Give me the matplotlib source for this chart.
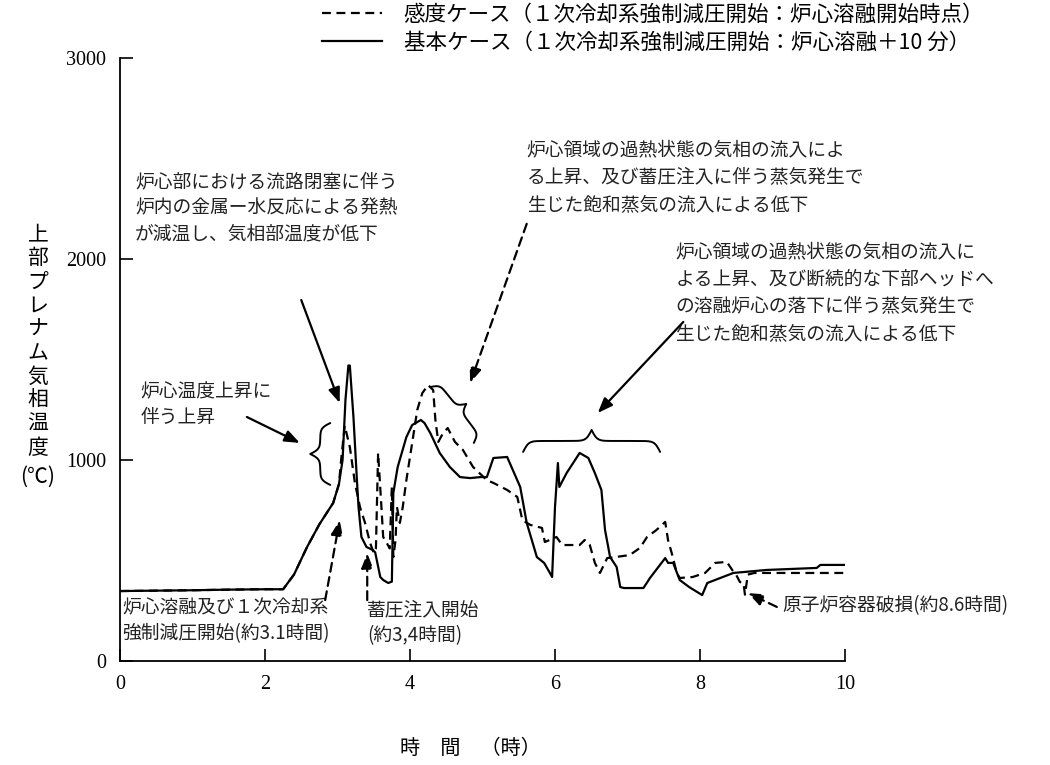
import matplotlib
matplotlib.use("Agg")
import matplotlib.pyplot as plt
import numpy as np

JP = ["Noto Sans CJK JP", "DejaVu Sans"]
plt.rcParams["font.family"] = JP

# Base case: depressurisation at core melt + 10 min (solid)
base_hours = [0.0, 0.5, 1.0, 1.5, 2.0, 2.25, 2.4, 2.58, 2.75, 2.94, 3.02, 3.07,
              3.11, 3.15, 3.17, 3.22, 3.27, 3.29, 3.33, 3.4, 3.49, 3.52, 3.59,
              3.63, 3.7, 3.75, 3.77, 3.83, 3.95, 4.03, 4.15, 4.2, 4.28, 4.41,
              4.55, 4.69, 4.83, 4.97, 5.06, 5.15, 5.34, 5.52, 5.61, 5.75, 5.85,
              5.93, 5.96, 6.0, 6.04, 6.06, 6.16, 6.25, 6.34, 6.46, 6.55, 6.64,
              6.69, 6.76, 6.85, 6.9, 6.95, 7.22, 7.31, 7.52, 7.56, 7.63, 7.72,
              7.85, 8.03, 8.1, 8.28, 8.46, 8.92, 9.61, 9.66, 10.0]
base_temp = [348, 350, 352, 355, 357, 357, 430, 567, 680, 786, 880, 1000,
             1300, 1470, 1470, 1214, 886, 766, 617, 567, 552, 540, 418,
             403, 388, 395, 836, 965, 1114, 1174, 1199, 1184, 1134, 1035,
             965, 915, 910, 915, 915, 1010, 1015, 866, 687, 517, 488,
             438, 418, 766, 985, 866, 935, 985, 1035, 1010, 935, 851,
             652, 517, 468, 368, 363, 363, 413, 512, 488, 488, 403,
             368, 328, 388, 413, 438, 453, 463, 478, 478]

# Sensitivity case: depressurisation at core melt start (dashed)
sens_hours = [0.0, 0.5, 1.0, 1.5, 2.0, 2.25, 2.4, 2.58, 2.75, 2.94, 3.02, 3.05,
              3.1, 3.17, 3.24, 3.31, 3.38, 3.45, 3.5, 3.53, 3.56, 3.6, 3.63,
              3.68, 3.72, 3.75, 3.77, 3.8, 3.82, 3.86, 3.9, 3.95, 4.03, 4.1,
              4.17, 4.25, 4.32, 4.35, 4.39, 4.45, 4.52, 4.62, 4.73, 4.87, 5.06,
              5.15, 5.34, 5.48, 5.55, 5.66, 5.82, 5.86, 6.02, 6.1, 6.34, 6.41,
              6.48, 6.55, 6.62, 6.72, 6.83, 7.03, 7.17, 7.27, 7.4, 7.52, 7.56,
              7.61, 7.68, 7.72, 7.9, 8.07, 8.21, 8.37, 8.45, 8.5, 8.55, 8.6,
              8.62, 8.66, 8.75, 10.0]
sens_temp = [348, 350, 352, 355, 357, 357, 430, 567, 680, 786, 880, 1000,
             1170, 1065, 886, 766, 687, 587, 537, 560, 1035, 801, 617,
             587, 560, 866, 517, 600, 766, 687, 766, 900, 1085, 1249,
             1333, 1373, 1348, 1200, 1090, 1130, 1159, 1090, 1050, 965, 900,
             886, 851, 816, 701, 677, 662, 592, 617, 577, 577, 602,
             577, 488, 438, 512, 517, 527, 562, 617, 652, 692, 600,
             537, 438, 413, 418, 438, 488, 493, 450, 428, 393, 388,
             330, 430, 438, 438]

legend_labels = ["感度ケース（１次冷却系強制減圧開始：炉心溶融開始時点）",
                 "基本ケース（１次冷却系強制減圧開始：炉心溶融＋10 分）"]
x_ticks = [0, 2, 4, 6, 8, 10]
y_ticks = [0, 1000, 2000, 3000]


def draw_brace(ax, p0, p1, depth, lw=1.4):
    """Curly brace from p0 to p1 (data coords), cusp `depth` px to the left of p0->p1."""
    a = ax.transData.transform(p0)
    b = ax.transData.transform(p1)
    chord = b - a
    length = np.hypot(*chord)
    u = chord / length
    n = np.array([-u[1], u[0]])
    k = 8.0 / abs(depth)
    s = np.linspace(0, length / 2, 80)
    sig = lambda v: 1.0 / (1.0 + np.exp(-v))
    d = 0.5 * abs(depth) * (sig(k * s) + sig(k * (s - length / 2)))
    d = 2 * (d - abs(depth) / 4)
    s_all = np.concatenate([s, length - s[::-1]])
    d_all = np.concatenate([d, d[::-1]])
    pts = a + np.outer(s_all, u) + np.outer(np.sign(depth) * d_all, n)
    data = ax.transData.inverted().transform(pts)
    ax.plot(data[:, 0], data[:, 1], color="black", lw=lw, clip_on=False,
            solid_capstyle="round")


def arrow(ax, start, tip, dashed=False):
    ax.annotate("", xy=tip, xytext=start,
                arrowprops=dict(arrowstyle="-|>,head_length=0.9,head_width=0.35",
                                lw=1.6, color="black",
                                linestyle=(0, (4, 2.5)) if dashed else "-",
                                shrinkA=0, shrinkB=0))


fig = plt.figure(figsize=(10.5, 7.65), dpi=100)
ax = fig.add_axes([120 / 1050, 104 / 765, 725 / 1050, 603 / 765])

ax.plot(sens_hours, sens_temp, color="black", lw=1.6, ls=(0, (4, 2.5)),
        label=legend_labels[0])
ax.plot(base_hours, base_temp, color="black", lw=1.6, label=legend_labels[1])

ax.set_xlim(0, 10)
ax.set_ylim(0, 3000)
ax.set_xticks(x_ticks)
ax.set_yticks(y_ticks)
for sp in ["top", "right"]:
    ax.spines[sp].set_visible(False)
for sp in ["left", "bottom"]:
    ax.spines[sp].set_linewidth(1.3)
ax.tick_params(direction="in", length=9, width=1.2, pad=10)
for lab in ax.get_xticklabels() + ax.get_yticklabels():
    lab.set_family("Liberation Serif")
    lab.set_fontsize(14.5)

leg = ax.legend(loc="upper left", bbox_to_anchor=(322 / 1050, 1 - 4 / 765),
                bbox_transform=fig.transFigure, frameon=False, fontsize=15.5,
                borderpad=0, borderaxespad=0, handlelength=2.8,
                handletextpad=1.0, labelspacing=0.25)

# axis titles
fig.text(470 / 1050, 1 - 748 / 765, "時　間　（時）", ha="center", va="center",
         fontsize=14.5)
fig.text(38 / 1050, 1 - 341 / 765, "\n".join("上部プレナム気相温度"),
         ha="center", va="center", fontsize=15, linespacing=1.1)
fig.text(38 / 1050, 1 - 477 / 765, "(℃)", ha="center", va="center", fontsize=15)

# annotations
txt = dict(fontsize=13.5, ha="left", va="top", color="#222222")
ax.text(0.21, 2435, "炉心部における流路閉塞に伴う\n炉内の金属ー水反応による発熱\n"
        "が減温し、気相部温度が低下", linespacing=1.3, **txt)
ax.text(0.28, 1390, "炉心温度上昇に\n伴う上昇", linespacing=1.3, **txt)
ax.text(5.61, 2595, "炉心領域の過熱状態の気相の流入によ\nる上昇、及び蓄圧注入に伴う蒸気発生で\n"
        "生じた飽和蒸気の流入による低下", linespacing=1.4, **txt)
ax.text(7.66, 2090, "炉心領域の過熱状態の気相の流入に\nよる上昇、及び断続的な下部ヘッドへ\n"
        "の溶融炉心の落下に伴う蒸気発生で\n生じた飽和蒸気の流入による低下",
        linespacing=1.4, **txt)
ax.text(0.03, 318, "炉心溶融及び１次冷却系\n強制減圧開始(約3.1時間)", linespacing=1.3, **txt)
ax.text(3.41, 308, "蓄圧注入開始\n(約3,4時間)", linespacing=1.3, **txt)
ax.text(9.13, 274, "原子炉容器破損(約8.6時間)", fontsize=13.5, ha="left",
        va="center", color="#222222")

arrow(ax, (2.50, 1796), (3.03, 1284))
arrow(ax, (1.75, 1214), (2.48, 1085))
arrow(ax, (5.61, 2175), (4.83, 1383), dashed=True)
arrow(ax, (7.77, 1687), (6.59, 1234))
arrow(ax, (2.83, 303), (3.03, 701), dashed=True)
arrow(ax, (3.41, 303), (3.41, 537), dashed=True)
arrow(ax, (9.06, 269), (8.66, 338), dashed=True)

draw_brace(ax, (2.90, 1184), (2.90, 876), -20)
draw_brace(ax, (4.28, 1363), (4.88, 1085), 18)
draw_brace(ax, (5.56, 1040), (7.45, 1040), 22)

fig.savefig("out.png", dpi=100)
